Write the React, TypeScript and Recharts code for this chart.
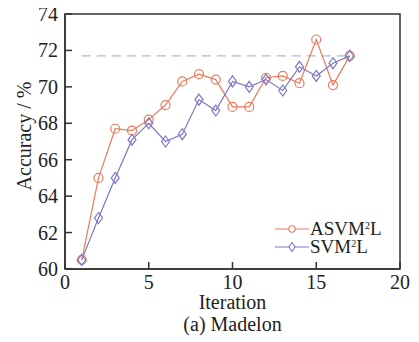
import * as React from 'react';
import { LineChart, Line, XAxis, YAxis, ReferenceLine, ReferenceArea } from 'recharts';

const iterations = [1, 2, 3, 4, 5, 6, 7, 8, 9, 10, 11, 12, 13, 14, 15, 16, 17];
const asvm = [60.5, 65.0, 67.7, 67.6, 68.2, 69.0, 70.3, 70.7, 70.4, 68.9, 68.9, 70.5, 70.6, 70.2, 72.6, 70.1, 71.7];
const svm = [60.5, 62.8, 65.0, 67.1, 68.0, 67.0, 67.4, 69.3, 68.7, 70.3, 70.0, 70.4, 69.8, 71.1, 70.6, 71.3, 71.7];
const bestLevel = 71.7;
const xTicks = [0, 5, 10, 15, 20];
const yTicks = [60, 62, 64, 66, 68, 70, 72, 74];

const ORANGE = '#ec7b5c';
const BLUE = '#7b79c6';
const DASH = '#9fbee0';
const AXIS = '#333333';
const FONT = 'Liberation Serif, Times New Roman, serif';

const data = iterations.map((it, i) => ({ it, asvm: asvm[i], svm: svm[i] }));

const Diamond = (props: any) => {
    const { cx, cy } = props;
    if (cx == null || cy == null) return null;
    return (
        <polygon
            points={`${cx},${cy - 5.5} ${cx + 4},${cy} ${cx},${cy + 5.5} ${cx - 4},${cy}`}
            fill="none"
            stroke={BLUE}
            strokeWidth={1.2}
        />
    );
};

// tick text in serif, placed like recharts would
const XTick = (props: any) => {
    const { x, y, payload } = props;
    return (
        <text x={x} y={y + 13} textAnchor="middle" fontFamily={FONT} fontSize={20} fill="#222">
            {payload.value}
        </text>
    );
};

const YTick = (props: any) => {
    const { x, y, payload } = props;
    return (
        <text x={x} y={y + 7} textAnchor="end" fontFamily={FONT} fontSize={20} fill="#222">
            {payload.value}
        </text>
    );
};

const LegendBox = () => {
    const row = (name: string, color: string, marker: 'circle' | 'diamond') => (
        <div style={{ display: 'flex', alignItems: 'center', height: 18 }}>
            <svg width={34} height={14}>
                <line x1={0} y1={7} x2={34} y2={7} stroke={color} strokeWidth={1.2} />
                {marker === 'circle'
                    ? <circle cx={17} cy={7} r={3.2} fill="white" stroke={color} strokeWidth={1.1} />
                    : <polygon points="17,2.5 20,7 17,11.5 14,7" fill="white" stroke={color} strokeWidth={1.1} />}
            </svg>
            <span style={{ marginLeft: 1, whiteSpace: 'nowrap' }}>
                {name}<sup style={{ fontSize: 10, verticalAlign: 'top', lineHeight: '11px' }}>2</sup>L
            </span>
        </div>
    );
    return (
        <div style={{ position: 'absolute', left: 267, top: 212, fontFamily: FONT, fontSize: 19, color: '#222', lineHeight: '18px' }}>
            {row('ASVM', ORANGE, 'circle')}
            {row('SVM', BLUE, 'diamond')}
        </div>
    );
};

const XLabel = (props: any) => {
    const { x, y, width } = props.viewBox;
    const cx = x + width / 2;
    return (
        <g>
            <text x={cx} y={y + 40} textAnchor="middle" fontFamily={FONT} fontSize={20} fill="#222">Iteration</text>
            <text x={cx} y={y + 62} textAnchor="middle" fontFamily={FONT} fontSize={20} fill="#222">(a) Madelon</text>
        </g>
    );
};

const YLabel = () => (
    <text
        x={16}
        y={128}
        transform="rotate(-90, 16, 128)"
        textAnchor="middle"
        dominantBaseline="central"
        fontFamily={FONT}
        fontSize={20}
        fill="#222"
    >
        Accuracy / %
    </text>
);

export default function App() {
    return (
        <div style={{ position: 'relative', width: 411, height: 334, fontFamily: FONT }}>
            <LineChart width={411} height={334} data={data}
                margin={{ top: 6, right: 19, left: 0, bottom: 0 }}>
                <XAxis
                    dataKey="it"
                    type="number"
                    domain={[0, 20]}
                    ticks={xTicks}
                    interval={0}
                    tickSize={-7}
                    tickMargin={14}
                    tick={<XTick />}
                    stroke={AXIS}
                    strokeWidth={1.5}
                    height={73}
                    label={<XLabel />}
                />
                <YAxis
                    type="number"
                    domain={[60, 74]}
                    ticks={yTicks}
                    interval={0}
                    tickSize={-7}
                    tickMargin={14}
                    tick={<YTick />}
                    stroke={AXIS}
                    strokeWidth={1.5}
                    width={57}
                    label={<YLabel />}
                />
                <ReferenceArea x1={0} x2={20} y1={60} y2={74} fill="none" stroke={AXIS} strokeWidth={1.5} fillOpacity={0} />
                <ReferenceLine
                    segment={[{ x: iterations[0], y: bestLevel }, { x: iterations[iterations.length - 1], y: bestLevel }]}
                    stroke={DASH}
                    strokeWidth={1.3}
                    strokeDasharray="9 6"
                />
                <Line
                    isAnimationActive={false}
                    dataKey="asvm"
                    name="ASVM2L"
                    stroke={ORANGE}
                    strokeWidth={1.2}
                    dot={{ r: 4.5, fill: 'none', stroke: ORANGE, strokeWidth: 1.2 }}
                />
                <Line
                    isAnimationActive={false}
                    dataKey="svm"
                    name="SVM2L"
                    stroke={BLUE}
                    strokeWidth={1.2}
                    dot={(p: any) => <Diamond key={`d-${p.index}`} cx={p.cx} cy={p.cy} />}
                />
            </LineChart>
            <LegendBox />
        </div>
    );
}
